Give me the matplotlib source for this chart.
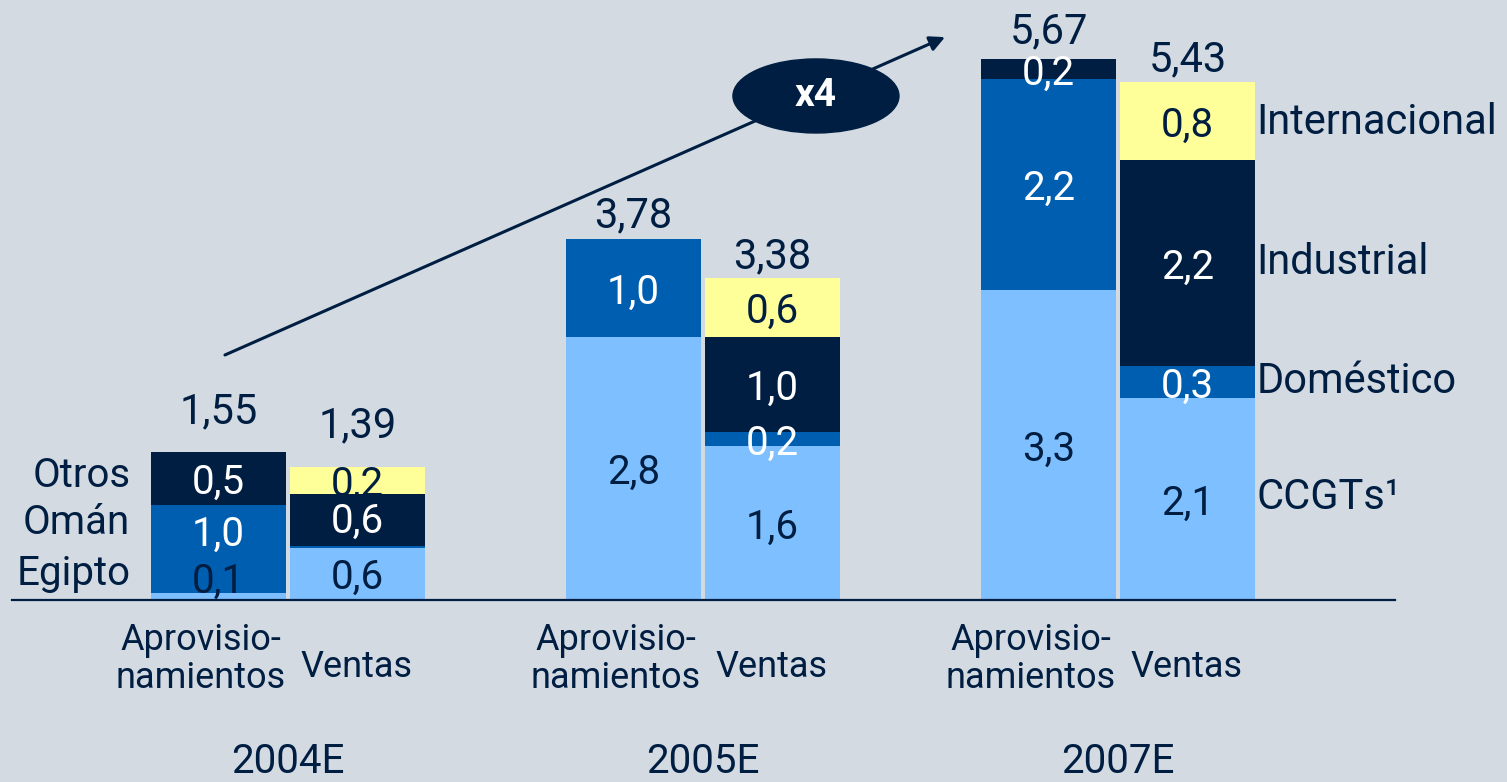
import matplotlib.pyplot as plt
from matplotlib.patches import Ellipse

plt.rcParams['font.family'] = ['Roboto', 'DejaVu Sans']

# data (bn m3 / year)
years = ['2004E', '2005E', '2007E']

aprov_light = [0.07, 2.76, 3.25]   # Egipto / CCGTs
aprov_mid = [0.93, 1.02, 2.21]     # Omán
aprov_navy = [0.55, 0.00, 0.21]    # Otros
aprov_totals = ['1,55', '3,78', '5,67']
aprov_labels = [['0,1', '2,8', '3,3'], ['1,0', '1,0', '2,2'], ['0,5', '', '0,2']]

ventas_ccgt = [0.55, 1.61, 2.12]
ventas_dom = [0.02, 0.15, 0.33]
ventas_ind = [0.54, 1.00, 2.16]
ventas_int = [0.28, 0.62, 0.82]
ventas_totals = ['1,39', '3,38', '5,43']
ventas_labels = [['0,6', '1,6', '2,1'], ['', '0,2', '0,3'], ['0,6', '1,0', '2,2'], ['0,2', '0,6', '0,8']]

left_names = ['Egipto', 'Omán', 'Otros']
right_names = ['CCGTs¹', 'Doméstico', 'Industrial', 'Internacional']

BG = '#D3DAE2'
NAVY = '#001E42'
MID = '#005EB0'
LIGHT = '#7DBFFF'
YELLOW = '#FFFF99'

fig = plt.figure(figsize=(15.07, 7.82), dpi=100, facecolor=BG)
ax = fig.add_axes([0, 0, 1, 1])
ax.set_facecolor(BG)
ax.set_xlim(-0.694, 2.937)
ax.set_ylim(-1.908, 6.289)
ax.axis('off')

w = 0.325
off = 0.1675
x = list(range(len(years)))


def stack(xpos, segs, colors, tcolors, labels, shifts):
    bottom = [0.0] * len(xpos)
    for seg, c, tc, lab, sh in zip(segs, colors, tcolors, labels, shifts):
        ax.bar(xpos, seg, width=w, bottom=bottom, color=c, linewidth=0)
        for xi, b, h, t, s in zip(xpos, bottom, seg, lab, sh):
            if t:
                ym = max(b + h / 2, 0.24) + s
                ax.text(xi, ym, t, ha='center', va='center_baseline', fontsize=29, color=tc)
        bottom = [b + h for b, h in zip(bottom, seg)]
    return bottom


xa = [i - off for i in x]
xv = [i + off for i in x]
# small label nudges where segments are too thin to hold their value
ta = stack(xa, [aprov_light, aprov_mid, aprov_navy], [LIGHT, MID, NAVY],
           [NAVY, 'white', 'white'], aprov_labels,
           [[0, 0, 0], [0.2, 0, 0], [0, 0, 0]])
tv = stack(xv, [ventas_ccgt, ventas_dom, ventas_ind, ventas_int], [LIGHT, MID, NAVY, YELLOW],
           [NAVY, 'white', 'white', NAVY], ventas_labels,
           [[0, 0, 0], [0, 0, 0], [0.03, 0, 0], [0, 0, 0]])

gap_a = [0.30, 0.13, 0.17]
gap_v = [0.31, 0.10, 0.11]
for i in x:
    ax.text(xa[i], ta[i] + gap_a[i], aprov_totals[i], ha='center', va='baseline', fontsize=30, color=NAVY)
    ax.text(xv[i], tv[i] + gap_v[i], ventas_totals[i], ha='center', va='baseline', fontsize=30, color=NAVY)
    ax.text(i - 0.21, -0.62, 'Aprovisio-\nnamientos', ha='center', va='center', fontsize=26,
            color=NAVY, linespacing=1.05)
    ax.text(i + 0.165, -0.70, 'Ventas', ha='center', va='center', fontsize=26, color=NAVY)
    ax.text(i, -1.69, years[i], ha='center', va='center', fontsize=29, color=NAVY)

# baseline
ax.plot([-0.665, 2.667], [0, 0], color=NAVY, lw=1.6)

# left legend (Aprovisionamientos 2004E)
for name, yy in zip(left_names, [0.28, 0.81, 1.30]):
    ax.text(-0.38, yy, name, ha='right', va='center', fontsize=29, color=NAVY)

# right legend (Ventas 2007E)
for name, yy in zip(right_names, [1.07, 2.29, 3.54, 5.0]):
    ax.text(2.333, yy, name, ha='left', va='center', fontsize=30, color=NAVY)

# growth arrow
ax.annotate('', xy=(1.583, 5.90), xytext=(-0.152, 2.568),
            arrowprops=dict(arrowstyle='-|>,head_length=0.9,head_width=0.45', color=NAVY, lw=2.2,
                            shrinkA=0, shrinkB=0))
ax.add_patch(Ellipse((1.272, 5.283), 0.40, 0.776, color=NAVY, zorder=5))
ax.text(1.272, 5.283, 'x4', ha='center', va='center', fontsize=28, fontweight='bold', color='white', zorder=6)

fig.savefig('out.png', dpi=100, facecolor=BG)
